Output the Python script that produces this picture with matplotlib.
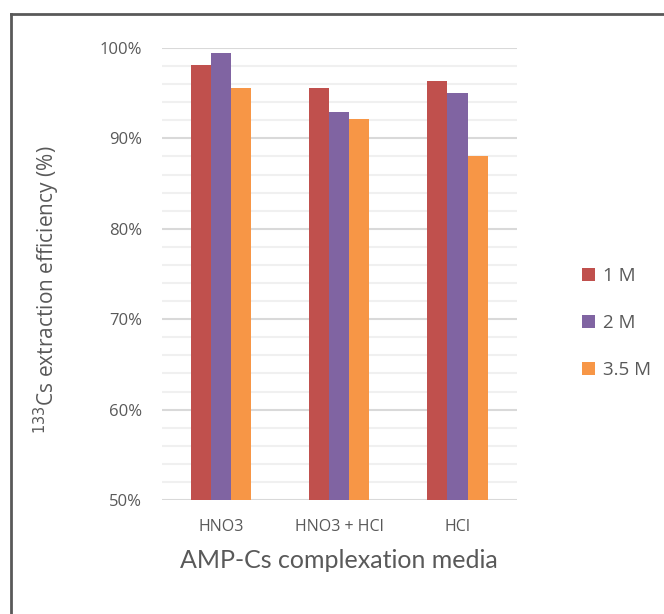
import matplotlib
matplotlib.use("Agg")
import matplotlib.pyplot as plt
import numpy as np
from matplotlib.patches import Patch
from matplotlib.lines import Line2D
from matplotlib.ticker import MultipleLocator, PercentFormatter

categories = ["HNO3", "HNO3 + HCl", "HCl"]
series_names = ["1 M", "2 M", "3.5 M"]
vals_1M = [98.1, 95.6, 96.3]
vals_2M = [99.4, 92.9, 95.0]
vals_35M = [95.6, 92.1, 88.0]
colors = ["#C0504D", "#8064A2", "#F79646"]

plt.rcParams['font.family'] = ['Open Sans', 'DejaVu Sans']
W, H = 664, 614
fig = plt.figure(figsize=(W/100, H/100), dpi=100)
ax = fig.add_axes([161.5/W, 114/H, 355.2/W, 452/H])

x = np.arange(len(categories))
bw = 0.169
for i, (vals, c) in enumerate(zip([vals_1M, vals_2M, vals_35M], colors)):
    ax.bar(x + (i - 1) * bw, vals, width=bw, color=c, zorder=3)

ax.set_xlim(-0.5, 2.5)
ax.set_ylim(50, 100)
ax.yaxis.set_major_locator(MultipleLocator(10))
ax.yaxis.set_minor_locator(MultipleLocator(2))
ax.yaxis.set_major_formatter(PercentFormatter(decimals=0))
ax.grid(axis='y', which='major', color='#d9d9d9', lw=1.5, zorder=0)
ax.grid(axis='y', which='minor', color='#f0f0f0', lw=1.5, zorder=0)
for s in ax.spines.values():
    s.set_visible(False)
ax.tick_params(axis='both', which='both', length=0, colors='#595959')
ax.tick_params(axis='y', labelsize=12, pad=14)
ax.tick_params(axis='x', labelsize=11.5, pad=14)
ax.set_xticks(x)
ax.set_xticklabels(categories)
ax.set_xlabel("AMP-Cs complexation media", fontsize=18, color='#595959', labelpad=10,
              family=['Lato', 'DejaVu Sans'])
ax.set_ylabel("$^{133}$Cs extraction efficiency (%)", fontsize=15, color='#595959')
ax.yaxis.set_label_coords(-0.28, 0.465)

handles = [Patch(facecolor=c, edgecolor='none') for c in colors]
fig.legend(handles, series_names, loc='center left', bbox_to_anchor=(565/W, 1 - 323/H),
           frameon=False, fontsize=13.5, labelcolor='#595959', handlelength=0.7,
           handleheight=0.7, handletextpad=0.45, labelspacing=1.55)

fig.add_artist(Line2D([10.5/W, 10.5/W], [0, 1 - 13.5/H], transform=fig.transFigure, color='#595959', lw=2))
fig.add_artist(Line2D([10.5/W, 1], [1 - 13.5/H, 1 - 13.5/H], transform=fig.transFigure, color='#595959', lw=2))

fig.savefig("out.png", dpi=100)
